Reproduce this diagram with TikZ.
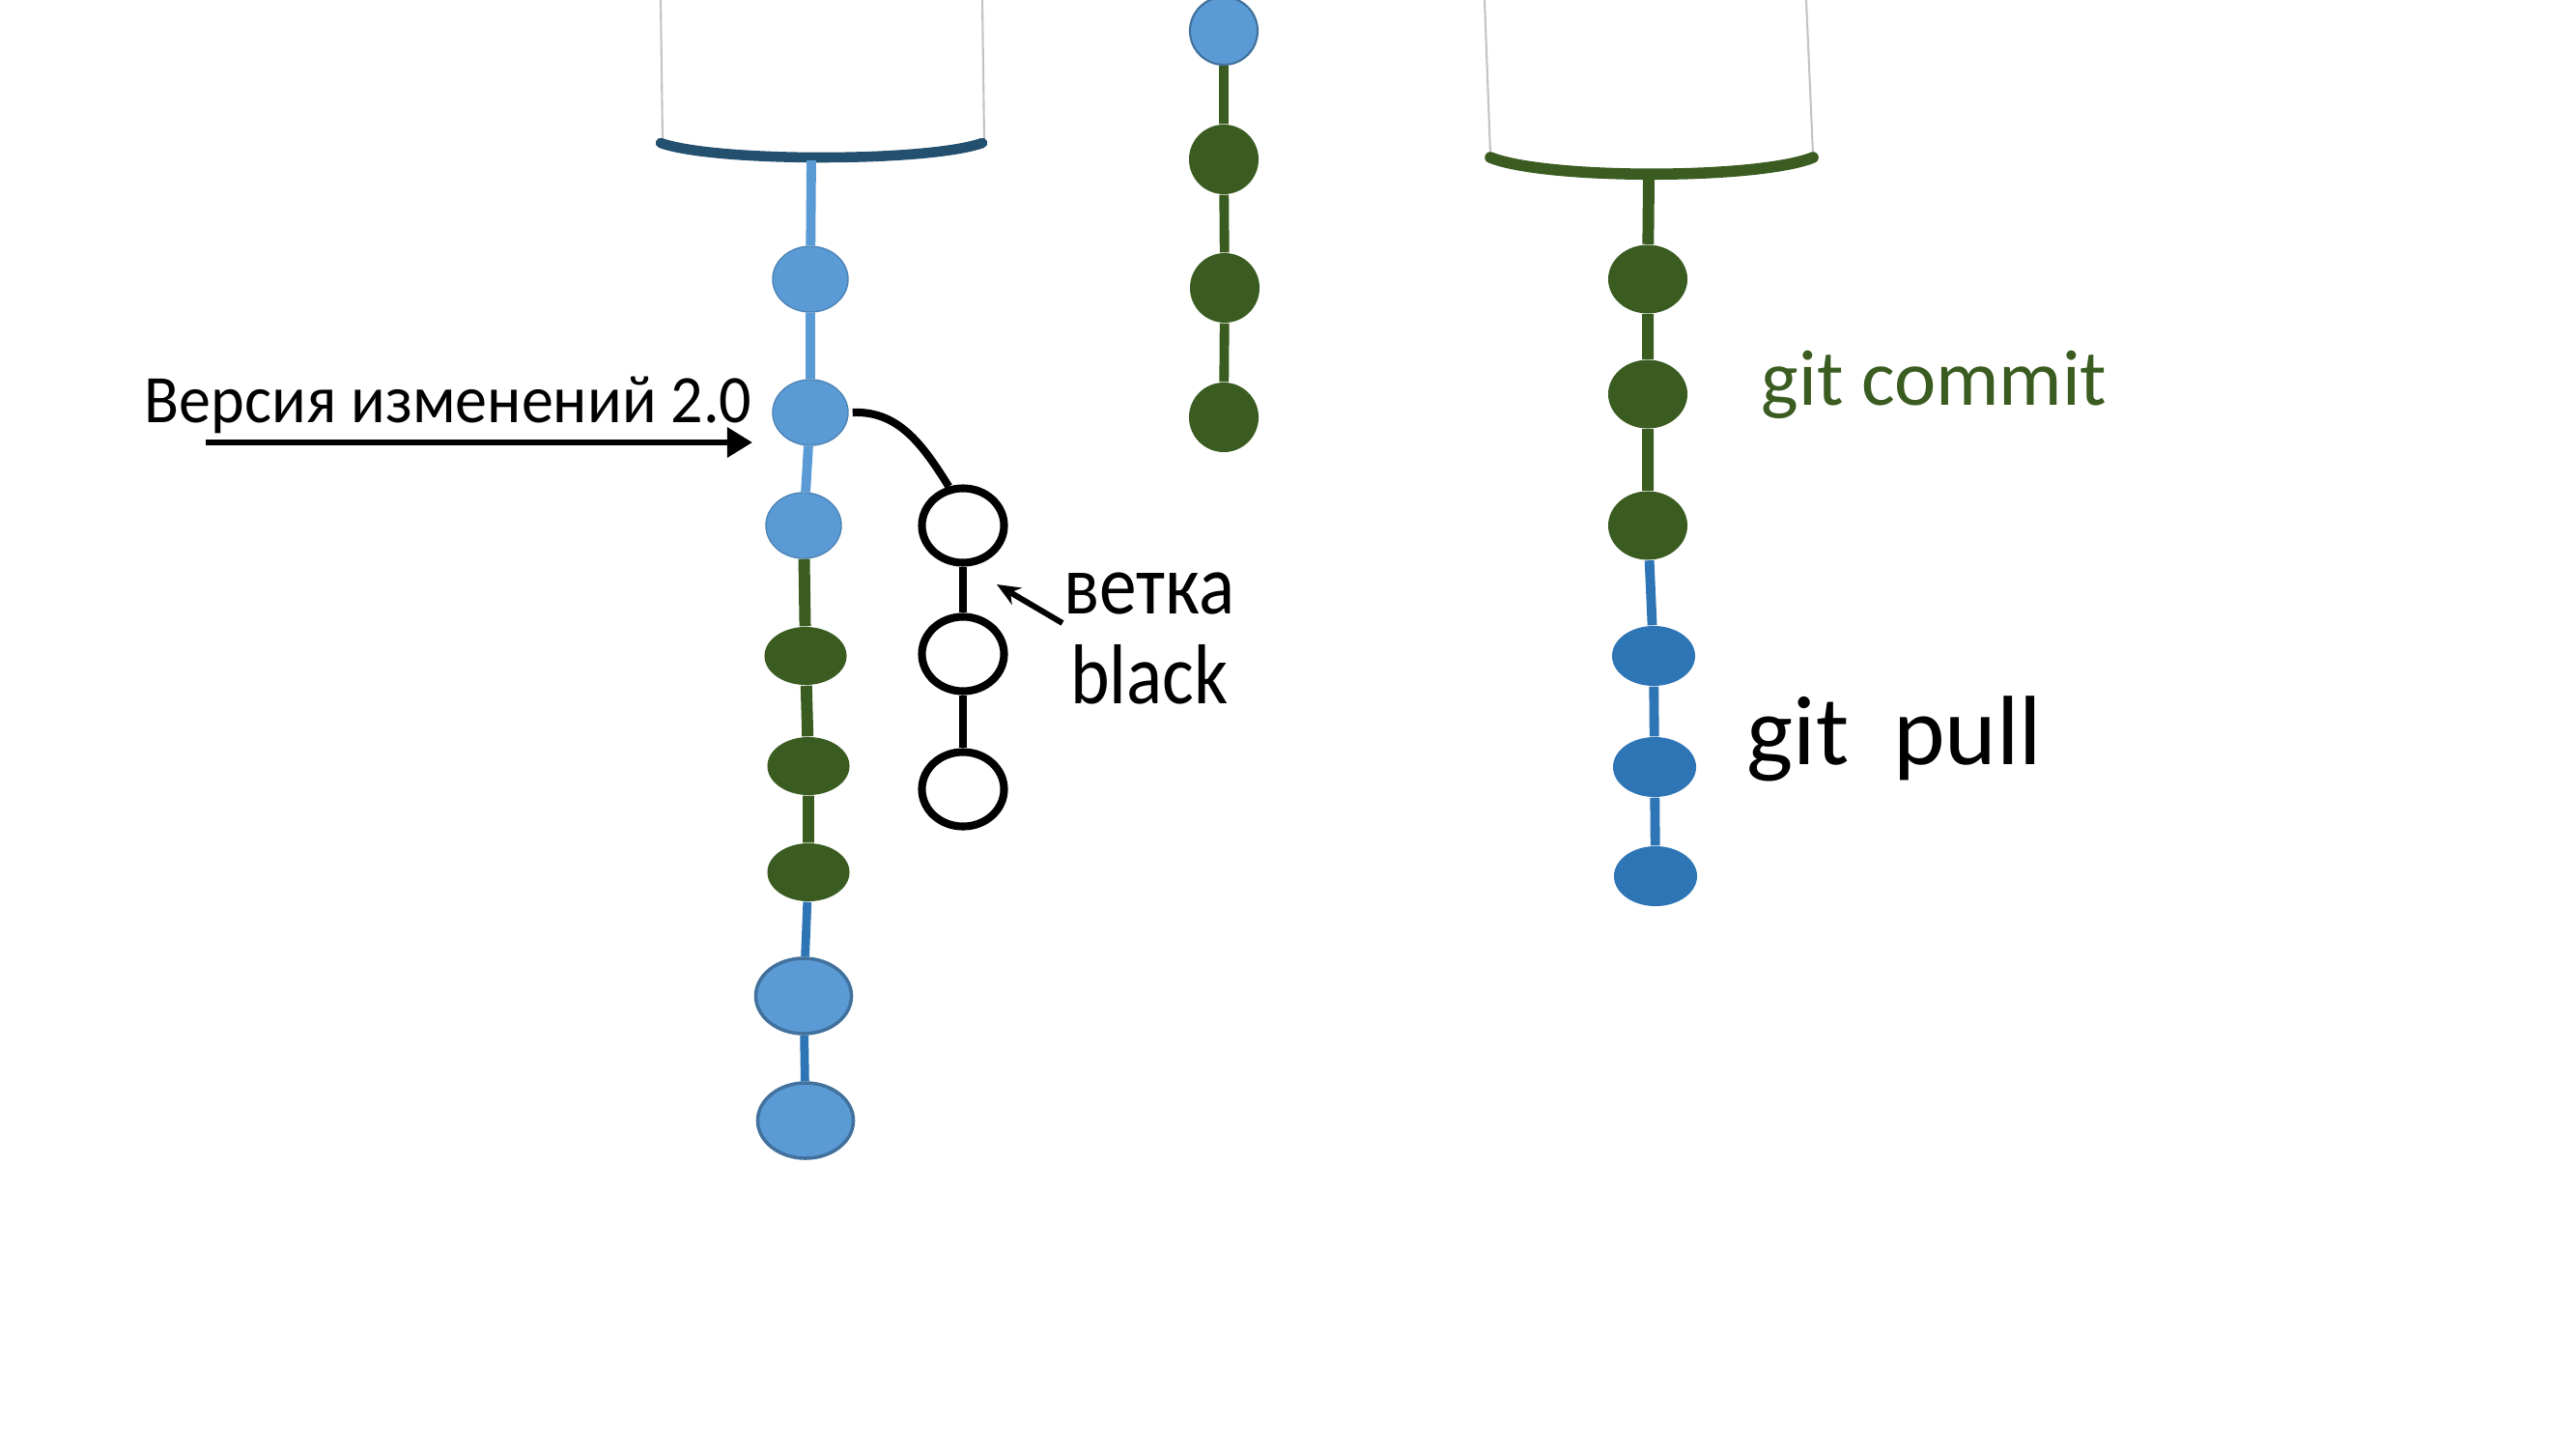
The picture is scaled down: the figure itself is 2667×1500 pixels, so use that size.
\documentclass[tikz,border=0pt]{standalone}
\usepackage{fontspec}
\setmainfont{Carlito}
\newfontfamily\versionfont[FakeStretch=0.94]{Carlito}
\newfontfamily\branchfont[FakeStretch=0.88]{Carlito}
\usetikzlibrary{positioning,arrows.meta,shapes.geometric}

\definecolor{lblue}{HTML}{5B9BD5}
\definecolor{lblueline}{HTML}{41719C}
\definecolor{dblue}{HTML}{2E75B6}
\definecolor{dgreen}{HTML}{3A5C21}
\definecolor{bucketblue}{HTML}{24506F}
\definecolor{sidegrey}{HTML}{C4C4C4}

\tikzset{
	commit/.style={ellipse, inner sep=0pt},
	lcommit/.style={commit, fill=lblue, draw=lblue!85!black, line width=0.4pt, minimum width=0.78cm, minimum height=0.68cm},
	bigcommit/.style={commit, fill=lblue, draw=lblueline, line width=1pt, minimum width=0.99cm, minimum height=0.78cm},
	gcommit/.style={commit, fill=dgreen, minimum width=0.85cm, minimum height=0.60cm},
	rgcommit/.style={commit, fill=dgreen, minimum width=0.82cm, minimum height=0.71cm},
	rbcommit/.style={commit, fill=dblue, minimum width=0.86cm, minimum height=0.62cm},
	mcommit/.style={circle, inner sep=0pt, minimum size=0.72cm},
	opencommit/.style={commit, draw=black, line width=2.3pt, minimum width=0.85cm, minimum height=0.77cm},
	stem/.style={line width=2.8pt},
	greenstem/.style={dgreen, line width=3.4pt},
	bucketside/.style={sidegrey, line width=0.6pt},
	label/.style={inner sep=0pt}
}

\begin{document}
\begin{tikzpicture}[x=0.01cm, y=-0.01cm]
	\useasboundingbox (0,0) rectangle (2667,1500);

	% buckets
	\draw[bucketside] (684,0) -- (686,146);
	\draw[bucketside] (1017,0) -- (1019,146);
	\draw[bucketblue, line width=3pt, line cap=round] (684,148) .. controls (740,168) and (961,168) .. (1017,148);
	\draw[bucketside] (1537,0) -- (1543,160);
	\draw[bucketside] (1870,0) -- (1877,160);
	\draw[dgreen, line width=3.3pt, line cap=round] (1543,163) .. controls (1600,186) and (1820,186) .. (1877,163);
	\coordinate (lbot) at (840,166);
	\coordinate (rbot) at (1707,184);

	% left column
	\node[lcommit] (lb1) at (839,289) {};
	\node[lcommit] (lb2) at (839,427) {};
	\node[lcommit] (lb3) at (832,544) {};
	\node[gcommit] (lg1) at (834,679) {};
	\node[gcommit] (lg2) at (837,793) {};
	\node[gcommit] (lg3) at (837,903) {};
	\node[bigcommit] (lb4) at (832,1031) {};
	\node[bigcommit] (lb5) at (834,1160) {};

	\draw[stem, lblue] (lbot) -- (lb1) -- (lb2) -- (lb3);
	\draw[greenstem] (lb3) -- (lg1) -- (lg2) -- (lg3);
	\draw[stem, dblue, line width=2.5pt] (lg3) -- (lb4) -- (lb5);

	% middle column
	\node[mcommit, fill=lblue, draw=lblueline, line width=0.6pt, minimum size=0.70cm] (mb) at (1267,32) {};
	\node[mcommit, fill=dgreen] (mg1) at (1267,165) {};
	\node[mcommit, fill=dgreen] (mg2) at (1268,298) {};
	\node[mcommit, fill=dgreen] (mg3) at (1267,432) {};
	\draw[dgreen, line width=2.8pt] (mb) -- (mg1) -- (mg2) -- (mg3);

	% right column
	\node[rgcommit] (rg1) at (1706,289) {};
	\node[rgcommit] (rg2) at (1706,408) {};
	\node[rgcommit] (rg3) at (1706,544) {};
	\node[rbcommit] (rb1) at (1712,679) {};
	\node[rbcommit] (rb2) at (1713,794) {};
	\node[rbcommit] (rb3) at (1714,907) {};
	\draw[greenstem] (rbot) -- (rg1) -- (rg2) -- (rg3);
	\draw[stem, dblue] (rg3) -- (rb1) -- (rb2) -- (rb3);

	% branch black
	\node[opencommit] (br1) at (997,544) {};
	\node[opencommit] (br2) at (997,677) {};
	\node[opencommit] (br3) at (997,817) {};
	\draw[line width=2.3pt] (br1) -- (br2) -- (br3);
	\draw[line width=2.3pt] ([xshift=0.04cm]lb2.east) .. controls (930,425) and (955,460) .. (br1.110);

	% labels
	\node[label, anchor=base east, font=\versionfont\fontsize{20}{24}\selectfont] (ver) at (779,437) {Версия изменений 2.0};
	\coordinate (verTail) at (213,458);
	\coordinate (verTip) at (779,458);
	\draw[line width=1.7pt, -{Triangle[length=0.26cm, width=0.3cm]}] (verTail) -- (verTip);

	\node[label, font=\branchfont\fontsize{25}{30}\selectfont] (vetka) at (1190,614) {ветка};
	\node[label, below=0.3cm of vetka, font=\branchfont\fontsize{25}{30}\selectfont] (black) {black};
	\coordinate (vetkaTip) at (1032,605);
	\coordinate (vetkaTail) at (1100,645);
	\draw[line width=1.7pt, -{Stealth[length=0.24cm, width=0.2cm]}] (vetkaTail) -- (vetkaTip);

	\node[label, anchor=base west, text=dgreen, font=\fontsize{23.3}{28}\selectfont] (commit) at (1823,419) {git commit};
	\node[label, anchor=base west, font=\fontsize{29}{35}\selectfont] (pull) at (1808,791) {git\ \ pull};
\end{tikzpicture}
\end{document}
